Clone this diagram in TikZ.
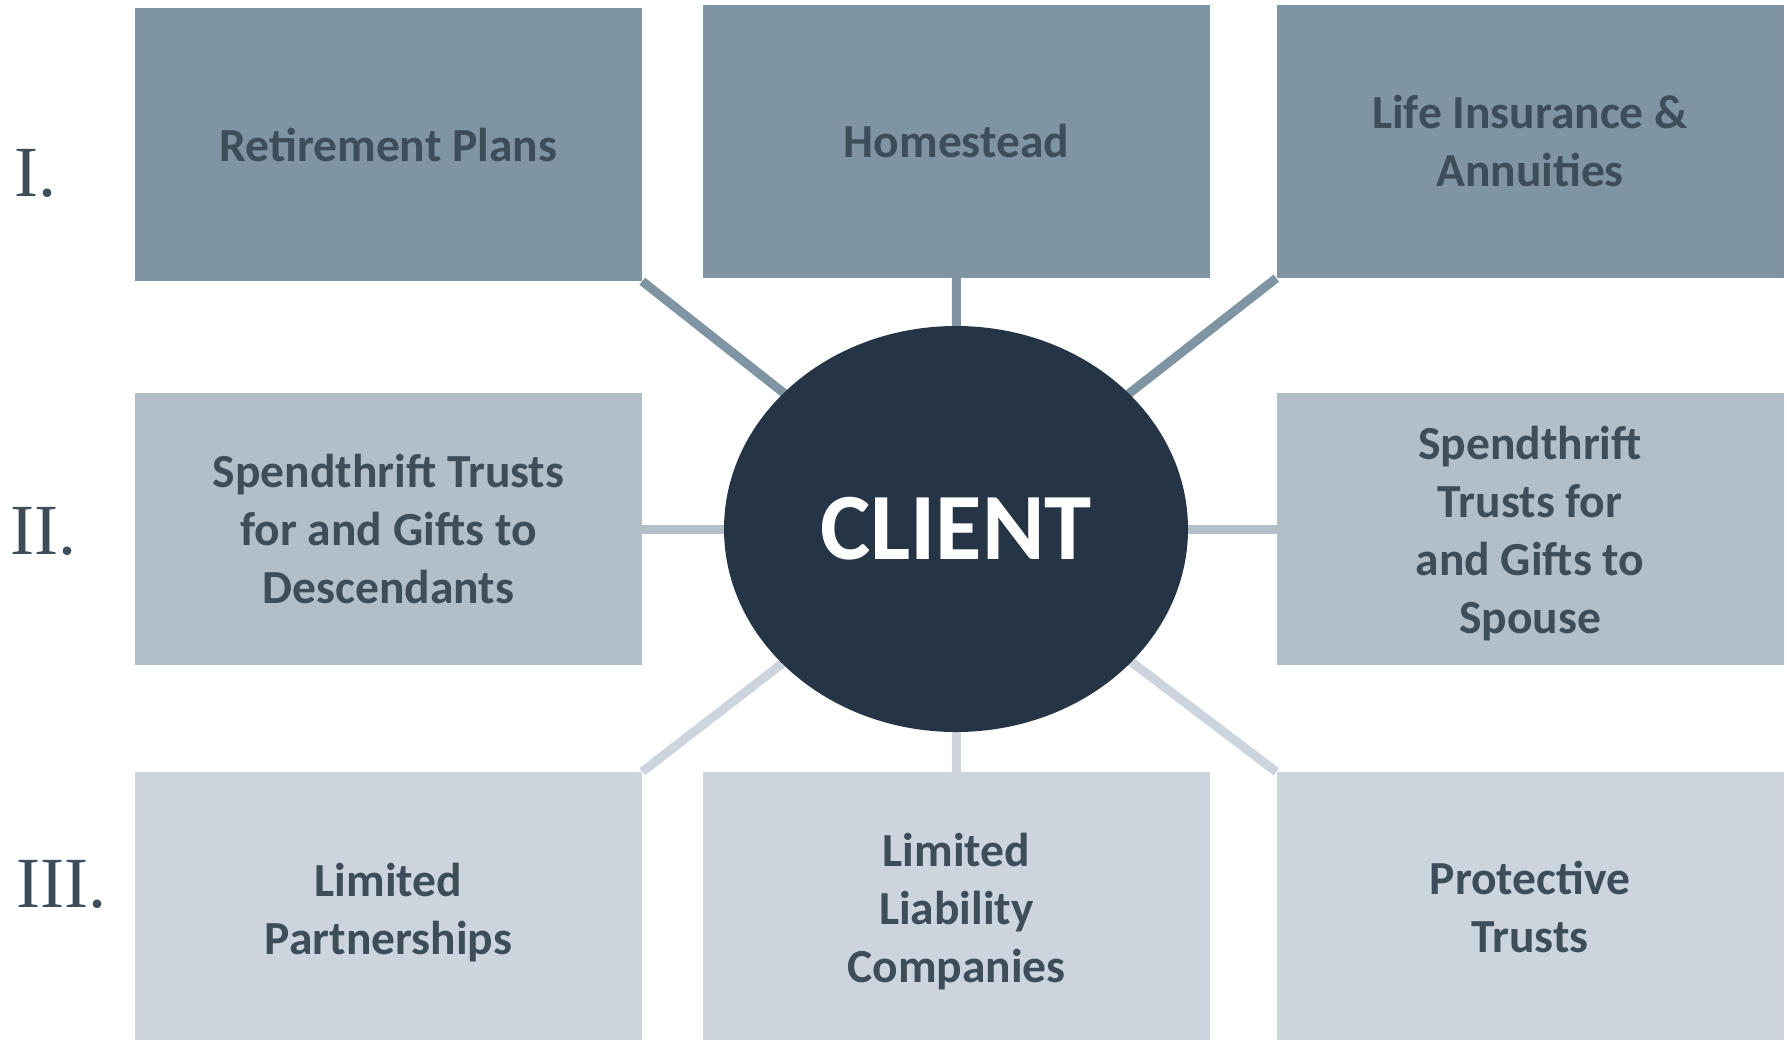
\documentclass[tikz,border=0pt]{standalone}
\usepackage{fontspec}
\setmainfont{Carlito}
\newfontfamily\numfont{Liberation Serif}
\usetikzlibrary{shapes.geometric}
\pgfdeclarelayer{background}
\pgfsetlayers{background,main}
\definecolor{rowA}{HTML}{7F95A3}
\definecolor{rowB}{HTML}{B2BFC8}
\definecolor{rowC}{HTML}{CCD5DD}
\definecolor{clientfill}{HTML}{253546}
\definecolor{txt}{HTML}{3E4D5A}
% #1: extra space above the first line (text moves down by half of it)
\newcommand\lowertext[2]{\begin{tabular}{@{}c@{}}\rule{0pt}{\dimexpr 40.6pt+#1\relax}#2\end{tabular}}
\tikzset{
  box/.style={rectangle, inner sep=0pt, minimum width=507pt, minimum height=273pt,
    text=txt, align=center, font=\fontsize{47.5}{58}\selectfont\bfseries},
  boxA/.style={box, fill=rowA},
  boxB/.style={box, fill=rowB, minimum height=272pt},
  boxC/.style={box, fill=rowC, minimum height=268pt},
  conn/.style={line width=9pt},
  numeral/.style={anchor=base west, inner sep=0pt, text=txt, font=\numfont\fontsize{72}{80}\selectfont},
}
\begin{document}
\begin{tikzpicture}[x=1pt,y=-1pt]
\useasboundingbox (0,0) rectangle (1787,1041);
% client
\node[ellipse, fill=clientfill, minimum width=464pt, minimum height=406pt, inner sep=0pt,
  text=white, font=\fontsize{95}{100}\selectfont\bfseries] (client) at (956,529) {CLIENT};
% row 1
\node[boxA] (ret) at (388.5,144.5) {Retirement Plans};
\node[boxA] (home) at (956.5,141.5) {Homestead};
\node[boxA] (life) at (1530,141.5) {Life Insurance \&\\Annuities};
% row 2
\node[boxB] (desc) at (388.5,529) {Spendthrift Trusts\\for and Gifts to\\Descendants};
\node[boxB] (spouse) at (1530,529) {\lowertext{12pt}{Spendthrift\\Trusts for\\and Gifts to\\Spouse}};
% row 3
\node[boxC] (lp) at (388.5,906) {\lowertext{16pt}{Limited\\Partnerships}};
\node[boxC] (llc) at (956.5,906) {\lowertext{14pt}{Limited\\Liability\\Companies}};
\node[boxC] (prot) at (1530,906) {\lowertext{12pt}{Protective\\Trusts}};
% numerals
\node[numeral] (n1) at (14,196) {I.};
\node[numeral] (n2) at (10,554) {II.};
\node[numeral] (n3) at (16,907) {III.};
% connectors
\begin{pgfonlayer}{background}
\draw[conn, rowA] (ret.south east) -- (client.center);
\draw[conn, rowA] (home.center) -- (client.center);
\draw[conn, rowA] (life.south west) -- (client.center);
\draw[conn, rowB] (desc.center) -- (client.center);
\draw[conn, rowB] (spouse.center) -- (client.center);
\draw[conn, rowC] (lp.north east) -- (client.center);
\draw[conn, rowC] (llc.center) -- (client.center);
\draw[conn, rowC] (prot.north west) -- (client.center);
\end{pgfonlayer}
\end{tikzpicture}
\end{document}
